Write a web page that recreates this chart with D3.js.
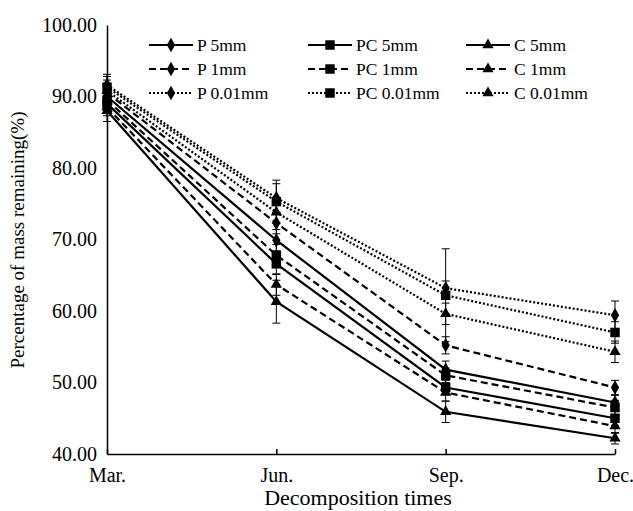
<!DOCTYPE html>
<html>
<head>
<meta charset="utf-8">
<script src="https://cdn.jsdelivr.net/npm/d3@7"></script>
<style>
  body { margin: 0; background: #fff; }
  text { font-family: "Liberation Serif", "Times New Roman", serif; fill: #000; }
</style>
</head>
<body>
<svg id="chart" width="633" height="511"></svg>
<script>
var months = ["Mar.", "Jun.", "Sep.", "Dec."];
var yTicks = [40, 50, 60, 70, 80, 90, 100];

// mean values, per series
var p5 = [90.0, 69.9, 51.8, 47.2];
var pc5 = [89.0, 66.6, 49.3, 45.0];
var c5 = [88.0, 61.3, 45.9, 42.2];
var p1 = [90.5, 72.3, 55.2, 49.3];
var pc1 = [89.5, 67.8, 51.0, 46.5];
var c1 = [88.5, 63.7, 48.6, 43.9];
var p001 = [91.6, 75.8, 63.2, 59.4];
var pc001 = [91.3, 75.3, 62.2, 57.0];
var c001 = [90.8, 73.8, 59.6, 54.3];

// error bar half widths
var p5Err = [1.2, 1.5, 1.2, 1.0];
var pc5Err = [1.2, 1.5, 1.0, 1.0];
var c5Err = [1.5, 3.0, 1.5, 0.8];
var p1Err = [1.2, 1.5, 1.2, 1.0];
var pc1Err = [1.0, 1.5, 1.0, 1.0];
var c1Err = [1.2, 1.5, 1.2, 1.0];
var p001Err = [1.5, 2.0, 1.0, 2.0];
var pc001Err = [1.5, 3.0, 6.5, 1.5];
var c001Err = [1.5, 1.5, 1.5, 1.5];

var series = [
  { name: "P 5mm", values: p5, err: p5Err, dash: null, marker: "diamond" },
  { name: "PC 5mm", values: pc5, err: pc5Err, dash: null, marker: "square" },
  { name: "C 5mm", values: c5, err: c5Err, dash: null, marker: "triangle" },
  { name: "P 1mm", values: p1, err: p1Err, dash: "7,4", marker: "diamond" },
  { name: "PC 1mm", values: pc1, err: pc1Err, dash: "7,4", marker: "square" },
  { name: "C 1mm", values: c1, err: c1Err, dash: "7,4", marker: "triangle" },
  { name: "P 0.01mm", values: p001, err: p001Err, dash: "2,2", marker: "diamond" },
  { name: "PC 0.01mm", values: pc001, err: pc001Err, dash: "2,2", marker: "square" },
  { name: "C 0.01mm", values: c001, err: c001Err, dash: "2,2", marker: "triangle" }
];

var svg = d3.select("#chart");
var x = d3.scalePoint().domain(months).range([107, 615]);
var y = d3.scaleLinear().domain([40, 100]).range([454, 25]);

var symbolMap = {
  diamond: d3.symbol().type(d3.symbolDiamond).size(60),
  square: d3.symbol().type(d3.symbolSquare).size(90),
  triangle: d3.symbol().type(d3.symbolTriangle).size(55)
};

// axes
var yAxis = svg.append("g").attr("transform", "translate(107,0)")
  .call(d3.axisLeft(y).tickValues(yTicks).tickFormat(d3.format(".2f")).tickSize(0).tickPadding(10));
yAxis.select(".domain").attr("stroke", "#000").attr("stroke-width", 1.5);
yAxis.selectAll("text").style("font-size", "20px");

var xAxis = svg.append("g").attr("transform", "translate(0,454)")
  .call(d3.axisBottom(x).tickSizeInner(-5).tickSizeOuter(0).tickPadding(14));
xAxis.select(".domain").attr("stroke", "#000").attr("stroke-width", 1.5);
xAxis.selectAll(".tick line").attr("stroke", "#000").attr("stroke-width", 1.5);
xAxis.selectAll("text").style("font-size", "20px");

svg.append("text").attr("x", 358).attr("y", 505).attr("text-anchor", "middle")
  .style("font-size", "22px").text("Decomposition times");
svg.append("text").attr("transform", "translate(24,240) rotate(-90)").attr("text-anchor", "middle")
  .style("font-size", "19px").text("Percentage of mass remaining(%)");

// error bars
series.forEach(function (s) {
  var g = svg.append("g").attr("stroke", "#000").attr("stroke-width", 1);
  months.forEach(function (m, i) {
    var cx = x(m), hi = y(s.values[i] + s.err[i]), lo = y(s.values[i] - s.err[i]);
    g.append("line").attr("x1", cx).attr("x2", cx).attr("y1", hi).attr("y2", lo);
    g.append("line").attr("x1", cx - 4).attr("x2", cx + 4).attr("y1", hi).attr("y2", hi);
    g.append("line").attr("x1", cx - 4).attr("x2", cx + 4).attr("y1", lo).attr("y2", lo);
  });
});

// lines
var line = d3.line().x(function (d, i) { return x(months[i]); }).y(function (d) { return y(d); });
series.forEach(function (s) {
  svg.append("path").datum(s.values).attr("d", line)
    .attr("fill", "none").attr("stroke", "#000").attr("stroke-width", 2.2)
    .attr("stroke-dasharray", s.dash);
});

// markers
series.forEach(function (s) {
  svg.append("g").selectAll("path").data(s.values).enter().append("path")
    .attr("d", symbolMap[s.marker])
    .attr("transform", function (d, i) { return "translate(" + x(months[i]) + "," + y(d) + ")"; })
    .attr("fill", "#000");
});

// legend
var legendX = [149, 308, 466], legendY = [45, 69, 93];
series.forEach(function (s, i) {
  var col = i % 3, row = Math.floor(i / 3);
  var lg = svg.append("g").attr("transform", "translate(" + legendX[col] + "," + legendY[row] + ")");
  lg.append("line").attr("x1", 0).attr("x2", 44).attr("y1", 0).attr("y2", 0)
    .attr("stroke", "#000").attr("stroke-width", 2.2).attr("stroke-dasharray", s.dash);
  lg.append("path").attr("d", symbolMap[s.marker]).attr("transform", "translate(22,0)").attr("fill", "#000");
  lg.append("text").attr("x", 48).attr("y", 6).style("font-size", "17.5px").text(s.name);
});
</script>
</body>
</html>
